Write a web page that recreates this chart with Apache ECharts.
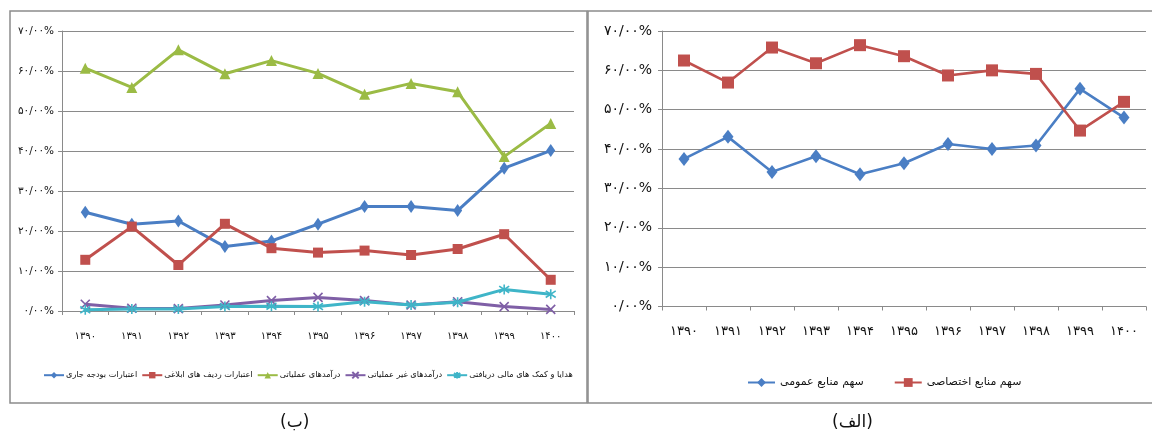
<!DOCTYPE html>
<html>
<head>
<meta charset="utf-8">
<script src="https://cdn.jsdelivr.net/npm/echarts@6/dist/echarts.min.js"></script>
<style>
  html, body { margin: 0; padding: 0; background: #fff; }
  #chart { width: 1152px; height: 435px; }
</style>
</head>
<body>
<div id="chart"></div>
<script>
// Years (Solar Hijri) shared by both panels
const years = ['۱۳۹۰', '۱۳۹۱', '۱۳۹۲', '۱۳۹۳', '۱۳۹۴', '۱۳۹۵', '۱۳۹۶', '۱۳۹۷', '۱۳۹۸', '۱۳۹۹', '۱۴۰۰'];

// Panel (ب): share of each funding source, percent
const currentBudget      = [24.7, 21.7, 22.5, 16.1, 17.5, 21.7, 26.1, 26.1, 25.1, 35.7, 40.1];
const allocatedRows      = [12.8, 21.1, 11.5, 21.8, 15.7, 14.6, 15.1, 14.0, 15.5, 19.2, 7.8];
const operatingIncome    = [60.7, 55.9, 65.3, 59.3, 62.6, 59.4, 54.2, 56.9, 54.8, 38.6, 46.9];
const nonOperatingIncome = [1.7, 0.7, 0.6, 1.5, 2.6, 3.4, 2.6, 1.5, 2.3, 1.1, 0.4];
const grantsReceived     = [0.3, 0.5, 0.5, 1.1, 1.2, 1.1, 2.3, 1.5, 2.2, 5.4, 4.2];

// Panel (الف): public vs dedicated resources, percent
const publicShare    = [37.5, 43.1, 34.2, 38.2, 33.6, 36.4, 41.3, 40.0, 40.9, 55.3, 48.0];
const dedicatedShare = [62.5, 56.9, 65.8, 61.8, 66.4, 63.6, 58.7, 60.0, 59.1, 44.7, 52.0];

const namesB = ['اعتبارات بودجه جاری', 'اعتبارات ردیف های ابلاغی', 'درآمدهای عملیاتی', 'درآمدهای غیر عملیاتی', 'هدایا و کمک های مالی دریافتی'];
const namesA = ['سهم منابع عمومی', 'سهم منابع اختصاصی'];
const captions = ['(ب)', '(الف)'];

const FONT = '"DejaVu Sans", sans-serif';
const faDigits = ['۰', '۱', '۲', '۳', '۴', '۵', '۶', '۷', '۸', '۹'];
const toFa = s => String(s).replace(/[0-9]/g, d => faDigits[+d]);
const pctLabel = v => toFa(Math.round(v)) + '/' + toFa('00') + '%';

const C = { blue: '#4a7ec4', red: '#c0504d', green: '#9bbb45', purple: '#7f5fa6', cyan: '#3fb5c8' };
const GRID_GRAY = '#8a8a8a';

const xSym = 'path://M0,0L10,10M10,0L0,10';
const starSym = 'path://M0,1L10,9M10,1L0,9M5,-1L5,11';

function xAxisFor(gridIndex, fontSize, margin) {
  return {
    type: 'category', gridIndex, data: years, boundaryGap: true,
    axisLine: { lineStyle: { color: GRID_GRAY, width: 1 } },
    axisTick: { show: true, length: 4, lineStyle: { color: GRID_GRAY } },
    axisLabel: { color: '#111', fontFamily: FONT, fontSize, margin }
  };
}
function yAxisFor(gridIndex, fontSize, margin) {
  return {
    type: 'value', gridIndex, min: 0, max: 70, interval: 10,
    axisLine: { show: true, lineStyle: { color: GRID_GRAY, width: 1 } },
    axisTick: { show: true, length: 4, lineStyle: { color: GRID_GRAY } },
    splitLine: { lineStyle: { color: GRID_GRAY, width: 1 } },
    axisLabel: { color: '#111', fontFamily: FONT, fontSize, margin, formatter: pctLabel }
  };
}
function line(name, data, color, symbol, size, idx, width, strokeMarker) {
  return {
    type: 'line', name, data, xAxisIndex: idx, yAxisIndex: idx,
    symbol, symbolSize: size, showAllSymbol: true,
    lineStyle: { color, width },
    itemStyle: strokeMarker
      ? { color: 'rgba(0,0,0,0)', borderColor: color, borderWidth: 1.6 }
      : { color, borderColor: color, borderWidth: 0 },
    emphasis: { disabled: true },
    z: 3
  };
}

const chart = echarts.init(document.getElementById('chart'), null, { renderer: 'canvas' });
chart.setOption({
  animation: false,
  backgroundColor: '#fff',
  textStyle: { fontFamily: FONT },
  grid: [
    { left: 62, right: 578, top: 31, bottom: 124 },
    { left: 662, right: 6, top: 31, bottom: 128.5 }
  ],
  xAxis: [xAxisFor(0, 10, 20), xAxisFor(1, 13, 19)],
  yAxis: [yAxisFor(0, 10.5, 8), yAxisFor(1, 14, 10)],
  legend: [
    {
      data: namesB, left: 38, top: 366, itemGap: 4, itemWidth: 20, itemHeight: 8,
      textStyle: { fontFamily: FONT, fontSize: 8.2, color: '#111', padding: [0, 0, 0, -3] }
    },
    {
      data: namesA, left: 742, top: 372, itemGap: 30, itemWidth: 27, itemHeight: 11,
      textStyle: { fontFamily: FONT, fontSize: 11, color: '#111' }
    }
  ],
  series: [
    line(namesB[0], currentBudget, C.blue, 'diamond', [9, 13], 0, 3),
    line(namesB[1], allocatedRows, C.red, 'rect', 10, 0, 3),
    line(namesB[2], operatingIncome, C.green, 'triangle', 11, 0, 3),
    line(namesB[3], nonOperatingIncome, C.purple, xSym, 9, 0, 3, true),
    line(namesB[4], grantsReceived, C.cyan, starSym, 10, 0, 3, true),
    line(namesA[0], publicShare, C.blue, 'diamond', [11, 14], 1, 2.6),
    line(namesA[1], dedicatedShare, C.red, 'rect', 12, 1, 2.6)
  ],
  graphic: [
    { type: 'rect', shape: { x: 10, y: 11, width: 577, height: 392 }, style: { fill: 'none', stroke: '#8c8c8c', lineWidth: 1.5 }, z: 0, silent: true },
    { type: 'rect', shape: { x: 588, y: 11, width: 570, height: 392 }, style: { fill: 'none', stroke: '#8c8c8c', lineWidth: 1.5 }, z: 0, silent: true },
    { type: 'text', left: 280, top: 414, style: { text: captions[0], font: '17px ' + FONT, fill: '#111' }, silent: true },
    { type: 'text', left: 832, top: 414, style: { text: captions[1], font: '17px ' + FONT, fill: '#111' }, silent: true }
  ]
});
</script>
</body>
</html>
